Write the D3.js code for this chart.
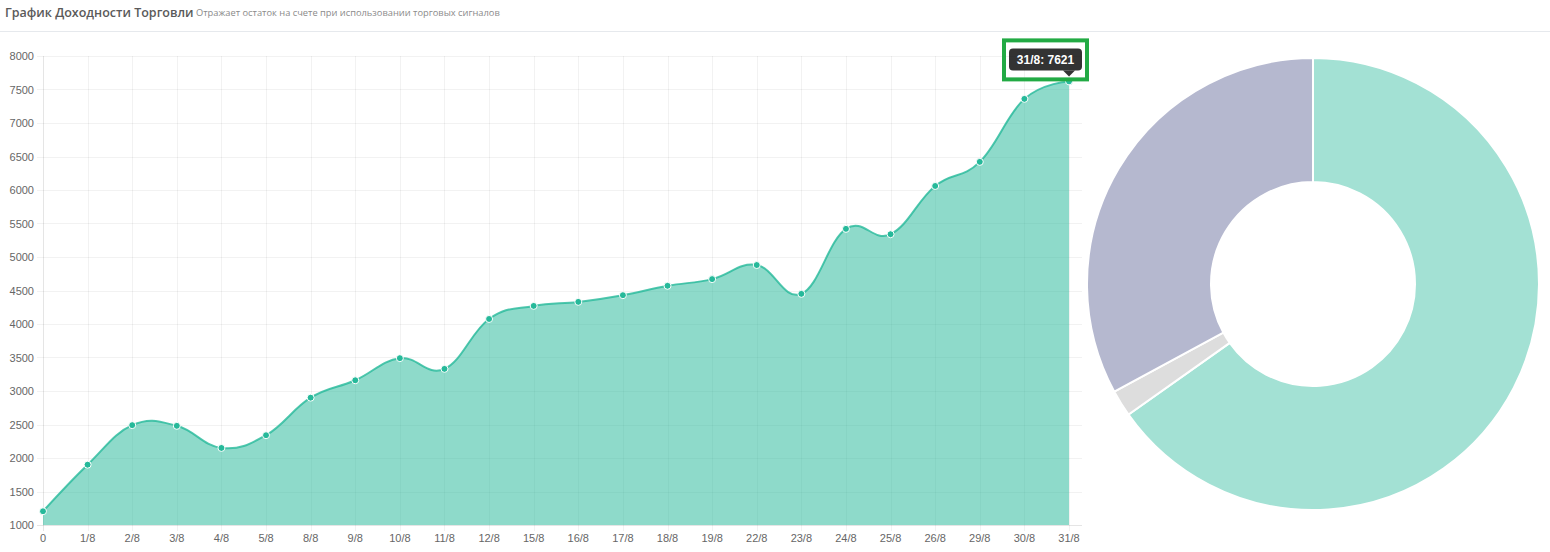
<!DOCTYPE html>
<html>
<head>
<meta charset="utf-8">
<script src="https://cdn.jsdelivr.net/npm/d3@7"></script>
<style>
  body { margin: 0; background: #fff; }
  text { font-family: "Liberation Sans", Arial, sans-serif; }
  text.hdr { font-family: "Open Sans", "DejaVu Sans", sans-serif; }
</style>
</head>
<body>
<svg id="chart"></svg>
<script>
var w = 1550;
var h = 552;

// balance per trading day
var days = ['0','1/8','2/8','3/8','4/8','5/8','8/8','9/8','10/8','11/8','12/8','15/8','16/8','17/8','18/8','19/8','22/8','23/8','24/8','25/8','26/8','29/8','30/8','31/8'];
var balance = [1205, 1900, 2490, 2480, 2150, 2340, 2900, 3160, 3490, 3330, 4075, 4270, 4330, 4430, 4570, 4670, 4880, 4450, 5420, 5340, 6060, 6420, 7360, 7621];
var y_ticks = [1000, 1500, 2000, 2500, 3000, 3500, 4000, 4500, 5000, 5500, 6000, 6500, 7000, 7500, 8000];

// donut shares
var pie_values = [65.2, 1.9, 32.9];
var pie_colors = ['#a3e1d4', '#dddddd', '#b5b8cf'];

var svg = d3.select("#chart").attr("width", w).attr("height", h);

// header
svg.append("text").attr("class", "hdr").attr("x", 5).attr("y", 17)
   .style("font-size", "12.5px").style("font-weight", "600").style("fill", "#5a5a5a")
   .text("График Доходности Торговли");
svg.append("text").attr("class", "hdr").attr("x", 196).attr("y", 16)
   .style("font-size", "9.3px").style("fill", "#8a8a8a")
   .text("Отражает остаток на счете при использовании торговых сигналов");
svg.append("line").attr("x1", 0).attr("x2", w).attr("y1", 31.5).attr("y2", 31.5)
   .style("stroke", "#e6e9ed");

// line chart
var plot_left = 43, plot_right = 1069, plot_top = 56, plot_bottom = 525, axis_end = 1082;
var x = d3.scalePoint().domain(days).range([plot_left, plot_right]);
var y = d3.scaleLinear().domain([1000, 8000]).range([plot_bottom, plot_top]);

var grid = svg.append("g");
days.forEach(function(d){
    grid.append("line").attr("x1", Math.round(x(d)) + 0.5).attr("x2", Math.round(x(d)) + 0.5)
        .attr("y1", plot_top).attr("y2", plot_bottom + 6)
        .style("stroke", x(d) == plot_left ? "rgba(0,0,0,0.1)" : "rgba(0,0,0,0.05)");
});
y_ticks.forEach(function(t){
    grid.append("line").attr("x1", plot_left - 6).attr("x2", axis_end)
        .attr("y1", Math.round(y(t)) + 0.5).attr("y2", Math.round(y(t)) + 0.5)
        .style("stroke", t == 1000 ? "rgba(0,0,0,0.1)" : "rgba(0,0,0,0.05)");
    svg.append("text").attr("x", plot_left - 9).attr("y", y(t) + 4)
       .attr("text-anchor", "end").style("font-size", "11px").style("fill", "#666")
       .text(t);
});
days.forEach(function(d){
    svg.append("text").attr("x", x(d)).attr("y", plot_bottom + 17)
       .attr("text-anchor", "middle").style("font-size", "11px").style("fill", "#666")
       .text(d);
});

var curve = d3.curveCardinal.tension(-0.2);
var area = d3.area().x(function(d, i){ return x(days[i]); })
    .y0(plot_bottom).y1(function(d){ return y(d); }).curve(curve);
var line = d3.line().x(function(d, i){ return x(days[i]); })
    .y(function(d){ return y(d); }).curve(curve);

svg.append("path").datum(balance).attr("d", area)
   .style("fill", "rgba(38,185,154,0.52)");
svg.append("path").datum(balance).attr("d", line)
   .style("fill", "none").style("stroke", "rgba(38,185,154,0.8)").style("stroke-width", "2px");
svg.selectAll("circle.pt").data(balance).enter().append("circle")
   .attr("class", "pt")
   .attr("cx", function(d, i){ return x(days[i]); })
   .attr("cy", function(d){ return y(d); })
   .attr("r", 3.5)
   .style("fill", "#26b99a").style("stroke", "#fff").style("stroke-width", "1px");

// tooltip on last point
var last = days.length - 1;
var tx = x(days[last]), ty = y(balance[last]);
var tip = svg.append("g");
tip.append("rect").attr("x", tx - 60).attr("y", ty - 33).attr("width", 73).attr("height", 22)
   .attr("rx", 4).style("fill", "rgba(0,0,0,0.8)");
tip.append("path")
   .attr("d", "M" + (tx - 6) + "," + (ty - 11) + "L" + tx + "," + (ty - 5) + "L" + (tx + 6) + "," + (ty - 11) + "Z")
   .style("fill", "rgba(0,0,0,0.8)");
tip.append("text").attr("x", tx - 23.5).attr("y", ty - 17.5).attr("text-anchor", "middle")
   .style("font-size", "12px").style("font-weight", "bold").style("fill", "#fff")
   .text(days[last] + ": " + balance[last]);
svg.append("rect").attr("x", tx - 65).attr("y", ty - 41).attr("width", 83).attr("height", 39)
   .style("fill", "none").style("stroke", "#22aa44").style("stroke-width", "4px");

// donut
var cx = 1313, cy = 284, r_out = 226, r_in = 102;
var pie = d3.pie().sort(null)(pie_values);
var arc = d3.arc().innerRadius(r_in).outerRadius(r_out);
svg.append("g").attr("transform", "translate(" + cx + "," + cy + ")")
   .selectAll("path").data(pie).enter().append("path")
   .attr("d", arc)
   .style("fill", function(d, i){ return pie_colors[i]; })
   .style("stroke", "#fff").style("stroke-width", "2px");
</script>
</body>
</html>
